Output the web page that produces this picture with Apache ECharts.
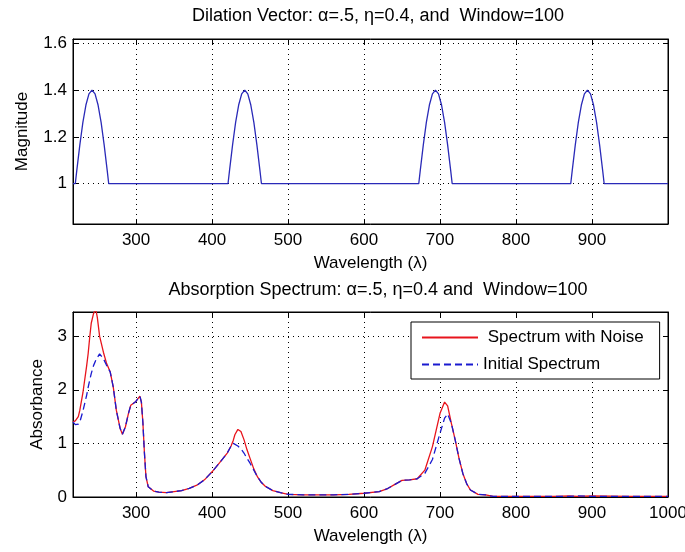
<!DOCTYPE html>
<html>
<head>
<meta charset="utf-8">
<script src="https://cdn.jsdelivr.net/npm/echarts@6/dist/echarts.min.js"></script>
<style>
html, body { margin: 0; padding: 0; background: #fff; }
#chart { width: 685px; height: 552px; }
</style>
</head>
<body>
<div id="chart"></div>
<script>
// titles / labels
var topTitle = 'Dilation Vector: α=.5, η=0.4, and  Window=100';
var bottomTitle = 'Absorption Spectrum: α=.5, η=0.4 and  Window=100';
var xName = 'Wavelength (λ)';
var topYName = 'Magnitude';
var bottomYName = 'Absorbance';
var seriesNames = ['Spectrum with Noise', 'Initial Spectrum'];

// dilation vector (top plot)
var dilationWavelength = [
	217,
	220, 222, 226, 230, 234, 238, 242, 246, 250, 254, 258, 262, 264,
	421, 423, 427, 431, 435, 439, 443, 447, 451, 455, 459, 463, 465,
	672, 674, 678, 682, 686, 690, 694, 698, 702, 706, 710, 714, 716,
	872, 874, 878, 882, 886, 890, 894, 898, 902, 906, 910, 914, 916,
	1000
];
var dilationMagnitude = [
	1.00,
	1.00, 1.057, 1.166, 1.262, 1.336, 1.384, 1.40, 1.384, 1.336, 1.262, 1.166, 1.057, 1.00,
	1.00, 1.057, 1.166, 1.262, 1.336, 1.384, 1.40, 1.384, 1.336, 1.262, 1.166, 1.057, 1.00,
	1.00, 1.057, 1.166, 1.262, 1.336, 1.384, 1.40, 1.384, 1.336, 1.262, 1.166, 1.057, 1.00,
	1.00, 1.057, 1.166, 1.262, 1.336, 1.384, 1.40, 1.384, 1.336, 1.262, 1.166, 1.057, 1.00,
	1.00
];

// absorption spectrum (bottom plot)
var specWavelength = [
	217, 220, 222, 224, 226, 230, 235, 237, 239, 241,
	244, 247, 249, 252, 257, 261, 266, 270, 274, 279,
	282, 286, 290, 293, 299, 305, 307, 309, 311, 313,
	316, 323, 330, 340, 350, 360, 370, 380, 390, 400,
	410, 420, 425, 428, 430, 434, 438, 442, 446, 450,
	455, 460, 465, 470, 480, 490, 500, 520, 540, 560,
	580, 600, 620, 630, 640, 650, 660, 670, 680, 690,
	700, 706, 710, 715, 720, 725, 730, 735, 740, 750,
	760, 770, 800, 850, 870, 880, 900, 950, 1000
];
var noisySpectrum = [
	1.40, 1.42, 1.45, 1.50, 1.62, 1.94, 2.45, 2.68, 2.98, 3.24,
	3.42, 3.50, 3.35, 3.00, 2.70, 2.50, 2.33, 2.05, 1.62, 1.28,
	1.17, 1.31, 1.56, 1.71, 1.77, 1.88, 1.77, 1.38, 0.82, 0.38,
	0.19, 0.11, 0.09, 0.08, 0.10, 0.12, 0.16, 0.22, 0.32, 0.47,
	0.64, 0.82, 0.95, 1.06, 1.16, 1.26, 1.22, 1.07, 0.88, 0.72,
	0.52, 0.37, 0.27, 0.20, 0.12, 0.08, 0.05, 0.04, 0.04, 0.04,
	0.05, 0.07, 0.10, 0.15, 0.23, 0.31, 0.32, 0.34, 0.50, 0.94,
	1.56, 1.77, 1.70, 1.37, 1.06, 0.72, 0.44, 0.25, 0.13, 0.05,
	0.04, 0.01, 0.01, 0.01, 0.02, 0.01, 0.02, 0.01, 0.01
];
var initialSpectrum = [
	1.40, 1.35, 1.33, 1.36, 1.40, 1.60, 1.90, 2.05, 2.18, 2.30,
	2.45, 2.55, 2.60, 2.67, 2.58, 2.46, 2.33, 2.05, 1.62, 1.28,
	1.17, 1.31, 1.56, 1.71, 1.77, 1.88, 1.77, 1.38, 0.82, 0.38,
	0.19, 0.11, 0.09, 0.08, 0.10, 0.12, 0.16, 0.22, 0.32, 0.47,
	0.64, 0.82, 0.95, 1.00, 0.99, 0.95, 0.90, 0.82, 0.72, 0.63,
	0.50, 0.37, 0.27, 0.20, 0.12, 0.08, 0.05, 0.04, 0.04, 0.04,
	0.05, 0.07, 0.10, 0.15, 0.23, 0.31, 0.32, 0.34, 0.44, 0.70,
	1.19, 1.47, 1.55, 1.37, 1.06, 0.72, 0.44, 0.25, 0.13, 0.05,
	0.04, 0.01, 0.01, 0.01, 0.01, 0.02, 0.01, 0.01, 0.01
];

var FONT = '"Liberation Sans", Arial, Helvetica, sans-serif';
var FS = 17;

function pairs(xs, ys) {
	return xs.map(function (x, i) { return [x, ys[i]]; });
}

// main axis with labels and dotted grid
function mainAxis(gridIndex, pos, min, max, split, extra) {
	var a = {
		gridIndex: gridIndex,
		type: 'value',
		position: pos,
		min: min,
		max: max,
		splitNumber: split,
		axisLine: { show: true, onZero: false, lineStyle: { color: '#000', width: 1 } },
		axisTick: { show: true, inside: true, length: 5, lineStyle: { color: '#000' } },
		axisLabel: {
			fontSize: FS, color: '#000', fontFamily: FONT, margin: 8,
			formatter: function (v) { return String(+v.toFixed(2)); }
		},
		splitLine: { show: true, lineStyle: { color: '#000', width: 1, type: [1, 4] } },
		nameLocation: 'middle',
		nameTextStyle: { fontSize: FS, color: '#000', fontFamily: FONT }
	};
	for (var k in extra) {
		if (k === 'axisLabel') {
			Object.assign(a.axisLabel, extra[k]);
		} else {
			a[k] = extra[k];
		}
	}
	return a;
}

// mirrored axis: only ticks, for the box on the other side
function mirrorAxis(gridIndex, pos, min, max, split) {
	return {
		gridIndex: gridIndex,
		type: 'value',
		position: pos,
		min: min,
		max: max,
		splitNumber: split,
		axisLine: { show: true, onZero: false, lineStyle: { color: '#000', width: 1 } },
		axisTick: { show: true, inside: true, length: 5, lineStyle: { color: '#000' } },
		axisLabel: { show: false },
		splitLine: { show: false }
	};
}

var chart = echarts.init(document.getElementById('chart'), null, { renderer: 'canvas' });

var option = {
	animation: false,
	backgroundColor: '#fff',
	title: [
		{
			text: topTitle, left: 373, top: 2, textAlign: 'center',
			textStyle: { fontSize: 18, fontWeight: 'normal', color: '#000', fontFamily: FONT }
		},
		{
			text: bottomTitle, left: 373, top: 276, textAlign: 'center',
			textStyle: { fontSize: 18, fontWeight: 'normal', color: '#000', fontFamily: FONT }
		}
	],
	grid: [
		{ left: 73, top: 39, width: 595, height: 185, show: true, borderColor: '#000', borderWidth: 1, backgroundColor: '#fff', outerBoundsMode: 'none' },
		{ left: 73, top: 312, width: 595, height: 185, show: true, borderColor: '#000', borderWidth: 1, backgroundColor: '#fff', outerBoundsMode: 'none' }
	],
	legend: {
		data: seriesNames,
		orient: 'vertical',
		left: 411,
		top: 322,
		itemWidth: 56,
		itemHeight: 16,
		itemGap: 10,
		padding: [7, 16, 6, 10],
		borderColor: '#000',
		borderWidth: 1,
		backgroundColor: '#fff',
		selectedMode: false,
		itemStyle: { opacity: 0 },
		textStyle: { fontSize: FS, color: '#000', fontFamily: FONT },
		formatter: function (name) {
			return name === seriesNames[0] ? ' ' + name : name;
		}
	},
	xAxis: [
		mainAxis(0, 'bottom', 217, 1000, 8, {
			name: xName, nameGap: 31,
			axisLabel: { showMinLabel: false, showMaxLabel: false }
		}),
		mirrorAxis(0, 'top', 217, 1000, 8),
		mainAxis(1, 'bottom', 217, 1000, 8, {
			name: xName, nameGap: 31,
			axisLabel: { showMinLabel: false, showMaxLabel: true }
		}),
		mirrorAxis(1, 'top', 217, 1000, 8)
	],
	yAxis: [
		mainAxis(0, 'left', 0.828, 1.618, 4, {
			name: topYName, nameGap: 42,
			axisLabel: { showMinLabel: false, showMaxLabel: false, margin: 6 }
		}),
		mirrorAxis(0, 'right', 0.828, 1.618, 4),
		mainAxis(1, 'left', 0, 3.45, 4, {
			name: bottomYName, nameGap: 27,
			axisLabel: { showMinLabel: true, showMaxLabel: false, margin: 6 }
		}),
		mirrorAxis(1, 'right', 0, 3.45, 4)
	],
	series: [
		{
			type: 'line',
			xAxisIndex: 0,
			yAxisIndex: 0,
			data: pairs(dilationWavelength, dilationMagnitude),
			symbol: 'none',
			silent: true,
			lineStyle: { color: '#2a2ab8', width: 1.3 }
		},
		{
			name: seriesNames[0],
			type: 'line',
			xAxisIndex: 2,
			yAxisIndex: 2,
			data: pairs(specWavelength, noisySpectrum),
			symbol: 'none',
			silent: true,
			itemStyle: { color: '#e8141c' },
			lineStyle: { color: '#e8141c', width: 1.3 }
		},
		{
			name: seriesNames[1],
			type: 'line',
			xAxisIndex: 2,
			yAxisIndex: 2,
			data: pairs(specWavelength, initialSpectrum),
			symbol: 'none',
			silent: true,
			itemStyle: { color: '#1a1ad0' },
			lineStyle: { color: '#1a1ad0', width: 1.3, type: [7, 4] }
		}
	]
};

chart.setOption(option);
</script>
</body>
</html>
